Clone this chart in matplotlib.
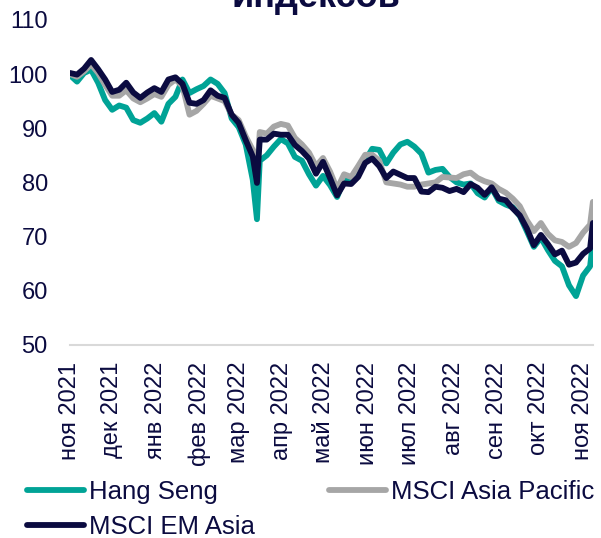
import pandas as pd
import matplotlib
matplotlib.use("Agg")
import matplotlib.pyplot as plt

plt.rcParams["font.family"] = ["Liberation Sans", "DejaVu Sans"]

# dates of the sampled points
dates = [
    "2021-11-01", "2021-11-06", "2021-11-11", "2021-11-16", "2021-11-21", "2021-11-26",
    "2021-12-01", "2021-12-06", "2021-12-11", "2021-12-16", "2021-12-21", "2021-12-26",
    "2021-12-31", "2022-01-05", "2022-01-10", "2022-01-15", "2022-01-20", "2022-01-25",
    "2022-01-30", "2022-02-04", "2022-02-09", "2022-02-14", "2022-02-19", "2022-02-24",
    "2022-03-01", "2022-03-06", "2022-03-11", "2022-03-14", "2022-03-16", "2022-03-21",
    "2022-03-26", "2022-03-31", "2022-04-05", "2022-04-10", "2022-04-15", "2022-04-20",
    "2022-04-25", "2022-04-30", "2022-05-05", "2022-05-10", "2022-05-15", "2022-05-20",
    "2022-05-25", "2022-05-30", "2022-06-04", "2022-06-09", "2022-06-14", "2022-06-19",
    "2022-06-24", "2022-06-29", "2022-07-04", "2022-07-09", "2022-07-14", "2022-07-19",
    "2022-07-24", "2022-07-29", "2022-08-03", "2022-08-08", "2022-08-13", "2022-08-18",
    "2022-08-23", "2022-08-28", "2022-09-02", "2022-09-07", "2022-09-12", "2022-09-17",
    "2022-09-22", "2022-09-27", "2022-10-02", "2022-10-07", "2022-10-12", "2022-10-17",
    "2022-10-22", "2022-10-27", "2022-11-01", "2022-11-06", "2022-11-08",
]

hang_seng = [
    99.8, 98.6, 100.2, 100.8, 98.4, 95.2,
    93.4, 94.2, 93.8, 91.5, 91.0, 91.8,
    92.8, 91.2, 94.5, 95.8, 99.0, 96.5,
    97.2, 97.8, 99.0, 98.2, 96.5, 91.8,
    90.2, 87.0, 80.5, 73.2, 84.0, 85.0,
    86.6, 88.0, 87.2, 84.7, 84.0, 81.5,
    79.4, 81.2, 79.5, 77.3, 80.5, 80.2,
    82.0, 84.0, 86.2, 86.0, 83.5, 85.5,
    87.0, 87.5, 86.6, 85.3, 81.8, 82.3,
    82.5, 81.0, 80.0, 79.6, 79.8, 78.0,
    77.2, 79.0, 76.6, 75.9, 75.4, 73.8,
    71.0, 68.1, 69.8, 67.5, 65.5, 64.5,
    61.0, 59.0, 62.8, 64.5, 68.9,
]

msci_ap = [
    100.0, 99.5, 100.5, 101.8, 100.2, 98.0,
    96.0, 96.0, 97.0, 95.5, 94.8, 95.5,
    96.3, 95.8, 98.0, 99.0, 97.8, 92.5,
    93.2, 94.5, 96.0, 95.5, 95.0, 92.5,
    91.5, 88.5, 86.0, 81.5, 89.3, 89.0,
    90.3, 90.8, 90.5, 88.2, 87.0, 85.5,
    83.0, 84.5, 82.0, 78.8, 81.5, 81.0,
    83.0, 85.1, 85.1, 84.0, 80.0, 79.8,
    79.6, 79.2, 79.2, 79.6, 79.8, 80.0,
    81.0, 80.9, 80.8, 81.5, 81.8, 80.8,
    80.2, 79.8, 78.8, 78.1, 77.0, 75.6,
    73.0, 71.0, 72.5, 70.5, 69.3, 69.0,
    68.1, 68.8, 70.7, 72.2, 76.4,
]

msci_em_asia = [
    100.2, 99.9, 101.0, 102.6, 100.9, 99.0,
    96.7, 97.1, 98.4, 96.6, 95.6, 96.6,
    97.4, 96.7, 99.0, 99.4, 98.2, 94.7,
    94.5, 95.2, 97.0, 96.0, 95.6, 92.5,
    91.0, 87.8, 84.8, 79.9, 87.9, 87.9,
    89.0, 88.8, 88.8, 86.9, 85.8, 84.4,
    81.6, 83.8, 80.8, 77.6, 79.8, 79.7,
    81.0, 83.6, 84.4, 83.0, 80.8, 82.0,
    81.4, 80.8, 80.8, 78.3, 78.2, 79.2,
    79.0, 78.4, 78.8, 78.2, 79.7, 79.0,
    77.7, 79.1, 77.0, 76.7, 75.2, 73.9,
    71.5, 68.4, 70.3, 68.6, 66.7, 67.4,
    64.8, 65.2, 66.8, 67.8, 72.5,
]

tick_dates = [
    "2021-11-01", "2021-12-01", "2022-01-01", "2022-02-01", "2022-03-01",
    "2022-04-01", "2022-05-01", "2022-06-01", "2022-07-01", "2022-08-01",
    "2022-09-01", "2022-10-01", "2022-11-01",
]
tick_labels = [
    "ноя 2021", "дек 2021", "янв 2022", "фев 2022", "мар 2022",
    "апр 2022", "май 2022", "июн 2022", "июл 2022", "авг 2022",
    "сен 2022", "окт 2022", "ноя 2022",
]

navy = "#0B0B40"
teal = "#00A396"
grey = "#A6A6A6"

x = pd.to_datetime(dates)

fig = plt.figure(figsize=(6.01, 5.38), dpi=100)
ax = fig.add_axes([0.1165, 0.359, 0.870, 0.604])

lw = 4.2
l_hs, = ax.plot(x, hang_seng, color=teal, lw=lw, solid_capstyle="round", label="Hang Seng")
l_ap, = ax.plot(x, msci_ap, color=grey, lw=lw, solid_capstyle="round", label="MSCI Asia Pacific")
l_em, = ax.plot(x, msci_em_asia, color=navy, lw=lw, solid_capstyle="round", label="MSCI EM Asia")

ax.set_ylim(50, 110)
ax.set_yticks(range(50, 111, 10))
ax.set_xlim(x[0], x[-1])
ax.set_xticks(pd.to_datetime(tick_dates))
ax.set_xticklabels(tick_labels, rotation=90)

for s in ["top", "right", "left"]:
    ax.spines[s].set_visible(False)
ax.spines["bottom"].set_color("#D9D9D9")
ax.spines["bottom"].set_linewidth(1.5)
ax.tick_params(axis="y", length=0, pad=16, labelsize=17, labelcolor=navy)
ax.tick_params(axis="x", length=0, pad=12, labelsize=17, labelcolor=navy)

fig.text(0.525, 1 - 7 / 538, "индексов", ha="center", va="baseline",
         fontsize=26, fontweight="bold", color=navy)

leg = fig.legend(
    [l_hs, l_em, l_ap],
    ["Hang Seng", "MSCI EM Asia", "MSCI Asia Pacific"],
    loc="upper left",
    bbox_to_anchor=(0.045, 0.108),
    ncol=2,
    frameon=False,
    fontsize=18.5,
    handlelength=2.2,
    handletextpad=0.2,
    columnspacing=2.9,
    labelspacing=0.45,
    borderaxespad=0,
    borderpad=0,
)
for t in leg.get_texts():
    t.set_color(navy)
for h in leg.legend_handles:
    h.set_linewidth(4.2)

fig.savefig("out.png", dpi=100)
